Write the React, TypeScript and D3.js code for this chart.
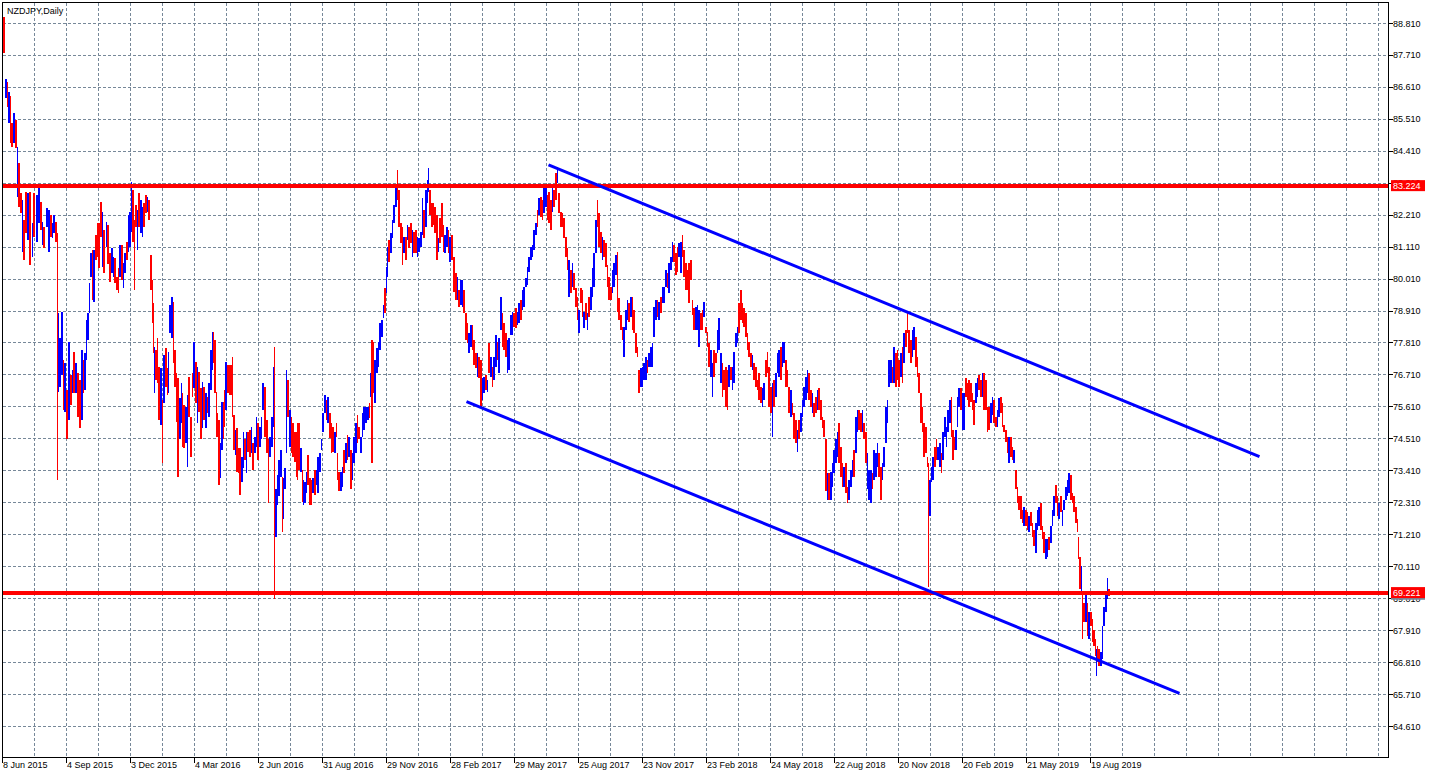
import React from 'react';
import * as d3 from 'd3';

const W = 1436;
const H = 779;

const title = 'NZDJPY,Daily';

const priceTicks = [88.81, 87.71, 86.61, 85.51, 84.41, 83.31, 82.21, 81.11, 80.01, 78.91, 77.81, 76.71, 75.61, 74.51, 73.41, 72.31, 71.21, 70.11, 69.01, 67.91, 66.81, 65.71, 64.61];

const dateLabels: [number, string][] = [
  [0, '8 Jun 2015'], [64, '4 Sep 2015'], [128, '3 Dec 2015'], [192, '4 Mar 2016'],
  [256, '2 Jun 2016'], [320, '31 Aug 2016'], [384, '29 Nov 2016'], [448, '28 Feb 2017'],
  [512, '29 May 2017'], [576, '25 Aug 2017'], [640, '23 Nov 2017'], [704, '23 Feb 2018'],
  [768, '24 May 2018'], [832, '22 Aug 2018'], [896, '20 Nov 2018'], [960, '20 Feb 2019'],
  [1024, '21 May 2019'], [1088, '19 Aug 2019'],
];

const levels = [83.224, 69.221];
const bidPrice = 69.18;

const channelUpper: [number, number][] = [[546, 83.94], [1257, 73.9]];
const channelLower: [number, number][] = [[464, 75.79], [1177, 65.75]];

// [trading day index, high, low, up(1)/down(0)]
const bars: [number, number, number, number][] = [
  [0, 89.03, 87.79, 0], [2, 86.89, 86.24, 1], [4, 86.79, 85.93, 0], [5, 86.45, 85.38, 1], [7, 86.31, 84.7, 0],
  [8, 85.38, 84.56, 0], [10, 85.73, 84.7, 1], [12, 85.49, 84.52, 0], [14, 84.56, 82.84, 1], [15, 84.01, 82.5, 0],
  [17, 82.98, 82.29, 0], [19, 82.74, 80.95, 1], [20, 82.05, 80.67, 0], [22, 83.01, 81.6, 0], [24, 82.98, 81.36, 1],
  [26, 83.01, 80.5, 0], [29, 81.94, 80.78, 1], [30, 82.98, 81.46, 0], [33, 82.91, 81.29, 1], [35, 83.18, 81.94, 1],
  [37, 82.67, 81.7, 0], [39, 81.98, 81.19, 1], [40, 81.8, 81.09, 0], [43, 82.46, 81.8, 1], [45, 82.39, 80.95, 1],
  [47, 82.22, 81.46, 0], [49, 81.94, 81.43, 1], [50, 82.22, 81.6, 1], [52, 81.98, 81.29, 0], [54, 81.6, 73.11, 0],
  [55, 78.85, 76.14, 1], [56, 77.99, 76.31, 1], [58, 78.88, 76.72, 1], [60, 77.24, 75.52, 0], [61, 77.13, 75.45, 1],
  [63, 76.2, 74.49, 0], [65, 77.85, 75.17, 1], [67, 76.72, 75.69, 0], [69, 76.89, 76.1, 1], [70, 77.51, 76.1, 0],
  [72, 77.13, 76.1, 1], [74, 76.79, 75.28, 0], [76, 76.55, 74.9, 0], [78, 77.58, 75.17, 1], [80, 77.24, 76.1, 0],
  [81, 77.48, 76.2, 1], [83, 78.61, 77.24, 1], [84, 78.85, 77.92, 1], [86, 79.88, 78.85, 1], [87, 80.91, 80.09, 1],
  [89, 81.02, 79.3, 0], [90, 81.02, 79.23, 1], [92, 81.53, 80.67, 0], [94, 81.94, 80.78, 0], [95, 81.94, 80.4, 0],
  [97, 82.67, 81.46, 0], [99, 82.32, 80.43, 1], [100, 81.7, 80.23, 0], [103, 81.98, 81.12, 1], [104, 81.88, 80.54, 0],
  [106, 80.91, 79.92, 0], [108, 81.09, 80.23, 1], [110, 80.78, 80.09, 1], [111, 80.74, 79.88, 0], [113, 80.09, 79.64, 0],
  [115, 80.4, 79.54, 0], [116, 81.19, 80.09, 1], [118, 81.19, 79.99, 0], [120, 80.57, 79.71, 1], [121, 80.91, 80.23, 1],
  [123, 81.29, 80.67, 0], [125, 82.22, 80.95, 1], [126, 82.32, 81.12, 1], [128, 83.35, 81.63, 1], [129, 83.08, 81.29, 0],
  [131, 82.05, 79.64, 0], [132, 82.56, 81.8, 0], [134, 82.39, 81.02, 1], [135, 82.98, 81.8, 0], [137, 82.74, 81.6, 1],
  [139, 82.5, 81.46, 1], [140, 82.63, 81.8, 0], [142, 82.91, 82.29, 0], [144, 82.84, 82.32, 1], [145, 82.74, 82.05, 0],
  [147, 80.84, 79.64, 0], [149, 79.99, 78.51, 0], [150, 79.19, 77.48, 0], [151, 77.68, 76.1, 1], [152, 77.58, 76.55, 0],
  [154, 77.99, 76.44, 0], [155, 76.99, 75.17, 0], [157, 76.96, 75.0, 1], [159, 75.86, 73.69, 0], [160, 77.41, 75.76, 1],
  [162, 77.65, 76.31, 0], [164, 76.96, 76.03, 0], [165, 77.51, 76.1, 1], [166, 79.12, 78.16, 1], [168, 79.4, 77.99, 1],
  [170, 79.23, 77.13, 0], [171, 77.58, 76.31, 0], [173, 76.79, 75.1, 0], [174, 76.62, 73.21, 0], [176, 75.93, 74.49, 1],
  [178, 76.44, 75.07, 1], [179, 76.1, 74.24, 0], [180, 75.69, 74.21, 0], [182, 75.62, 74.38, 1], [184, 76.03, 73.55, 1],
  [185, 76.65, 75.28, 0], [187, 75.28, 73.9, 0], [189, 76.79, 75.96, 0], [190, 77.85, 76.27, 1], [192, 77.17, 75.76, 0],
  [194, 76.99, 75.07, 1], [195, 76.82, 75.45, 0], [197, 76.27, 74.49, 0], [199, 76.48, 74.9, 1], [200, 76.31, 75.17, 0],
  [202, 76.1, 74.9, 1], [204, 75.96, 75.41, 0], [205, 76.44, 75.28, 1], [207, 77.58, 76.2, 1], [209, 78.2, 76.89, 1],
  [210, 78.2, 77.13, 0], [211, 77.92, 76.1, 0], [213, 76.13, 74.59, 0], [214, 75.41, 74.59, 0], [215, 75.17, 72.94, 0],
  [217, 74.38, 73.18, 1], [218, 75.79, 74.14, 1], [220, 75.79, 74.49, 0], [221, 76.2, 74.93, 0], [222, 77.17, 75.52, 1],
  [224, 77.06, 76.1, 0], [226, 77.06, 76.03, 0], [228, 77.06, 76.03, 0], [229, 77.34, 75.28, 0], [230, 75.34, 74.14, 0],
  [232, 74.83, 73.97, 1], [233, 74.9, 73.38, 0], [235, 74.21, 73.35, 0], [236, 74.21, 72.59, 0], [238, 73.87, 73.01, 1],
  [240, 74.73, 73.52, 1], [241, 74.49, 73.8, 0], [243, 74.73, 73.35, 1], [244, 74.73, 74.07, 0], [246, 74.83, 73.9, 0],
  [248, 74.93, 74.04, 1], [249, 74.38, 73.45, 0], [251, 74.59, 74.04, 1], [253, 75.28, 74.24, 1], [254, 75.07, 73.8, 0],
  [256, 74.93, 74.24, 1], [258, 75.28, 74.49, 1], [259, 76.44, 75.52, 1], [261, 76.31, 74.59, 0], [263, 75.17, 74.04, 0],
  [265, 74.49, 72.32, 0], [266, 74.59, 73.87, 1], [268, 75.28, 74.24, 1], [270, 76.99, 74.93, 1], [271, 77.68, 68.99, 0],
  [272, 72.77, 71.15, 1], [274, 73.28, 72.25, 1], [275, 73.8, 72.53, 1], [277, 74.14, 73.21, 1], [279, 73.21, 71.29, 0],
  [280, 73.18, 71.74, 1], [281, 73.52, 72.77, 1], [283, 76.89, 74.04, 1], [284, 76.55, 75.28, 0], [286, 75.52, 74.24, 1],
  [288, 75.28, 74.04, 0], [289, 75.07, 73.9, 0], [291, 74.73, 73.73, 0], [293, 74.73, 73.21, 0], [294, 75.07, 73.11, 0],
  [295, 75.07, 73.45, 0], [297, 74.21, 73.38, 1], [299, 73.45, 72.35, 0], [300, 73.11, 72.25, 1], [301, 73.01, 72.32, 1],
  [303, 73.38, 72.66, 1], [304, 73.97, 72.94, 0], [306, 73.18, 72.25, 0], [308, 73.11, 72.25, 0], [309, 73.18, 72.66, 1],
  [311, 73.45, 72.59, 0], [313, 73.45, 72.94, 1], [314, 73.87, 72.66, 1], [316, 74.04, 73.38, 1], [318, 74.49, 74.14, 1],
  [319, 75.41, 74.73, 1], [321, 76.03, 75.41, 1], [323, 75.86, 75.17, 0], [324, 75.96, 75.07, 1], [326, 75.41, 74.55, 0],
  [328, 75.07, 74.04, 0], [329, 74.93, 74.07, 0], [331, 74.73, 74.04, 1], [333, 75.07, 74.59, 0], [334, 74.04, 73.11, 0],
  [335, 73.38, 72.7, 0], [337, 73.38, 72.7, 1], [339, 73.55, 72.87, 1], [340, 74.14, 73.35, 0], [342, 74.38, 73.69, 1],
  [344, 74.66, 73.8, 0], [345, 74.59, 73.9, 1], [347, 74.14, 72.77, 0], [349, 74.04, 73.11, 1], [350, 74.59, 73.69, 1],
  [352, 75.07, 74.04, 1], [354, 75.34, 74.38, 0], [355, 74.93, 74.49, 0], [357, 74.59, 74.04, 1], [359, 75.41, 74.59, 1],
  [360, 75.59, 74.83, 1], [362, 75.62, 75.07, 1], [364, 75.62, 75.17, 1], [366, 75.76, 75.24, 0], [367, 76.79, 75.96, 1],
  [368, 77.92, 73.69, 0], [370, 77.85, 76.1, 0], [371, 77.24, 75.76, 1], [373, 77.65, 76.79, 1], [375, 77.85, 76.99, 1],
  [376, 78.51, 77.58, 1], [378, 78.61, 78.03, 1], [380, 79.12, 78.68, 1], [381, 79.71, 78.85, 0], [383, 80.43, 79.54, 1],
  [384, 81.12, 80.09, 1], [385, 81.36, 80.6, 0], [387, 81.6, 80.91, 1], [389, 82.05, 81.43, 1], [390, 82.56, 81.94, 1],
  [392, 83.18, 82.5, 1], [394, 83.77, 82.74, 0], [395, 83.08, 81.8, 0], [397, 81.94, 81.26, 0], [399, 81.8, 80.5, 0],
  [400, 81.46, 80.91, 1], [402, 81.46, 80.67, 0], [404, 81.88, 81.36, 1], [405, 81.8, 81.09, 0], [407, 81.94, 81.26, 0],
  [409, 81.7, 80.78, 1], [410, 81.63, 80.91, 0], [412, 81.7, 80.91, 0], [414, 81.46, 80.78, 1], [415, 81.43, 80.95, 1],
  [417, 81.63, 81.12, 1], [419, 82.81, 81.53, 1], [420, 82.39, 81.43, 0], [422, 83.08, 81.8, 1], [424, 83.42, 82.63, 1],
  [425, 83.84, 83.01, 1], [426, 83.08, 82.22, 0], [428, 82.63, 81.8, 0], [430, 82.63, 81.88, 0], [431, 82.5, 81.6, 0],
  [433, 82.22, 80.67, 0], [435, 81.43, 80.95, 1], [436, 82.12, 81.26, 0], [438, 82.63, 81.46, 0], [440, 81.88, 80.95, 0],
  [441, 81.53, 80.91, 1], [443, 81.8, 81.12, 1], [445, 81.7, 80.91, 0], [446, 81.46, 80.6, 1], [448, 81.53, 80.67, 0],
  [450, 80.78, 79.57, 0], [452, 80.23, 79.3, 0], [454, 80.09, 79.3, 1], [455, 79.64, 79.06, 0], [457, 79.99, 79.12, 1],
  [459, 79.99, 79.06, 1], [460, 79.64, 78.85, 0], [462, 78.85, 77.92, 0], [464, 78.51, 77.82, 0], [465, 78.16, 77.48, 1],
  [467, 78.44, 77.68, 1], [469, 78.44, 77.58, 0], [470, 77.92, 77.06, 0], [472, 77.48, 76.96, 0], [474, 77.48, 76.65, 1],
  [475, 77.34, 76.62, 0], [477, 77.24, 75.62, 0], [479, 76.62, 75.86, 1], [480, 76.65, 76.1, 1], [482, 76.72, 76.2, 0],
  [484, 76.55, 76.14, 1], [485, 77.82, 76.79, 0], [487, 77.34, 76.65, 1], [489, 76.99, 76.31, 0], [490, 77.34, 76.55, 1],
  [492, 78.09, 76.99, 1], [494, 77.85, 77.24, 0], [495, 77.99, 76.79, 1], [497, 79.4, 78.27, 1], [499, 78.85, 77.68, 0],
  [500, 78.51, 77.58, 0], [502, 78.16, 77.34, 0], [504, 77.92, 76.79, 1], [505, 77.99, 76.89, 1], [507, 78.78, 78.09, 1],
  [509, 78.88, 78.09, 1], [510, 78.85, 78.37, 0], [512, 79.02, 78.33, 0], [514, 78.88, 78.44, 1], [515, 79.19, 78.51, 1],
  [517, 79.3, 78.61, 0], [519, 79.64, 78.95, 1], [520, 79.74, 79.06, 1], [522, 80.05, 79.74, 1], [524, 80.43, 79.81, 1],
  [525, 80.78, 80.26, 1], [527, 81.12, 80.67, 1], [529, 81.19, 80.78, 1], [530, 81.7, 81.02, 1], [532, 81.94, 81.53, 1],
  [534, 82.39, 81.8, 0], [535, 82.81, 82.22, 1], [537, 82.84, 82.15, 0], [539, 82.74, 82.05, 0], [540, 83.18, 82.29, 1],
  [542, 83.15, 82.5, 1], [544, 82.91, 82.05, 0], [545, 83.01, 81.94, 0], [547, 82.74, 81.7, 0], [549, 83.15, 82.32, 1],
  [550, 83.08, 82.5, 0], [552, 83.66, 82.74, 0], [554, 83.87, 83.32, 1], [555, 82.98, 82.29, 0], [557, 82.32, 81.8, 0],
  [559, 82.29, 81.8, 0], [560, 82.12, 81.43, 0], [562, 81.46, 80.78, 0], [564, 81.09, 80.33, 0], [565, 80.67, 79.4, 1],
  [567, 80.33, 79.54, 0], [569, 80.57, 79.74, 1], [570, 80.23, 79.64, 0], [572, 79.71, 79.06, 0], [574, 79.4, 78.61, 0],
  [575, 78.95, 78.16, 1], [577, 79.71, 79.19, 0], [579, 79.64, 78.71, 0], [580, 78.88, 78.33, 1], [582, 79.19, 78.61, 0],
  [584, 78.85, 78.27, 1], [585, 79.4, 78.71, 0], [587, 79.74, 78.95, 1], [589, 80.4, 79.4, 1], [590, 80.91, 79.74, 1],
  [592, 82.05, 80.91, 1], [594, 82.74, 81.8, 0], [595, 82.29, 81.12, 0], [597, 81.63, 80.91, 0], [599, 81.46, 80.67, 1],
  [600, 81.36, 80.78, 0], [602, 81.26, 80.43, 0], [604, 80.5, 79.74, 0], [605, 80.09, 79.3, 0], [607, 79.74, 79.3, 0],
  [609, 80.33, 79.54, 1], [610, 80.57, 79.74, 1], [612, 80.84, 80.16, 1], [614, 80.95, 78.88, 0], [615, 79.37, 78.61, 0],
  [617, 78.78, 78.27, 0], [619, 78.37, 77.92, 0], [620, 78.37, 77.34, 1], [622, 78.95, 78.27, 1], [624, 79.3, 78.61, 1],
  [625, 79.19, 78.54, 0], [627, 79.4, 78.71, 1], [629, 79.4, 78.27, 0], [630, 78.95, 78.16, 0], [632, 78.16, 77.48, 0],
  [634, 77.68, 77.34, 0], [635, 76.89, 76.1, 0], [637, 76.96, 76.31, 1], [639, 76.99, 76.31, 1], [640, 77.13, 76.55, 1],
  [642, 77.34, 76.55, 1], [644, 77.24, 76.79, 0], [645, 77.48, 76.99, 1], [647, 77.68, 76.99, 1], [649, 77.82, 76.99, 1],
  [650, 79.06, 78.03, 1], [652, 79.3, 78.61, 1], [654, 79.3, 78.71, 0], [655, 79.23, 78.61, 1], [657, 79.4, 78.85, 0],
  [659, 79.74, 79.19, 1], [660, 79.74, 79.19, 1], [662, 80.33, 79.74, 1], [664, 80.23, 79.71, 0], [665, 80.57, 79.54, 1],
  [667, 80.78, 80.33, 1], [669, 81.29, 80.6, 1], [670, 81.19, 80.6, 0], [672, 80.91, 80.16, 0], [674, 81.12, 80.26, 0],
  [675, 81.26, 80.78, 1], [677, 81.29, 80.23, 1], [679, 81.53, 80.78, 0], [680, 81.02, 80.09, 0], [682, 80.57, 79.64, 0],
  [684, 80.33, 79.64, 0], [685, 80.57, 79.19, 0], [687, 80.67, 79.99, 0], [689, 79.3, 78.78, 0], [690, 79.02, 78.27, 0],
  [692, 79.06, 78.27, 1], [694, 79.12, 78.27, 1], [695, 78.95, 77.68, 1], [697, 78.85, 78.27, 0], [699, 78.95, 78.27, 0],
  [700, 79.23, 78.71, 1], [702, 78.37, 78.16, 0], [704, 78.2, 77.68, 0], [705, 77.82, 77.0, 0], [707, 77.58, 76.65, 1],
  [709, 77.13, 75.96, 1], [710, 77.58, 76.65, 0], [712, 77.48, 77.13, 0], [714, 78.27, 77.48, 1], [715, 78.68, 77.58, 1],
  [717, 77.48, 76.44, 1], [719, 77.13, 75.96, 0], [720, 76.89, 76.2, 0], [722, 76.99, 75.62, 0], [724, 76.89, 75.52, 0],
  [725, 77.06, 76.31, 1], [727, 76.99, 76.55, 0], [729, 76.99, 76.2, 1], [730, 77.51, 76.44, 1], [732, 78.16, 77.68, 1],
  [734, 78.37, 77.82, 1], [735, 79.19, 78.16, 0], [737, 79.64, 78.61, 0], [739, 79.19, 78.51, 0], [740, 79.02, 78.37, 0],
  [742, 78.85, 78.03, 0], [744, 78.16, 77.58, 0], [745, 77.85, 77.34, 0], [747, 77.48, 77.0, 0], [749, 77.41, 76.89, 1],
  [750, 77.13, 76.55, 0], [752, 76.99, 76.31, 0], [754, 76.55, 76.2, 0], [755, 76.79, 75.86, 0], [757, 76.31, 75.76, 0],
  [759, 76.27, 75.62, 1], [760, 76.44, 75.86, 1], [762, 77.24, 76.65, 0], [764, 77.51, 76.79, 0], [765, 76.99, 75.62, 0],
  [767, 76.31, 75.41, 0], [769, 76.44, 74.59, 1], [770, 76.55, 75.62, 0], [772, 76.79, 75.96, 1], [774, 77.48, 76.79, 1],
  [775, 77.58, 76.65, 1], [777, 77.68, 76.55, 0], [779, 77.85, 76.99, 1], [780, 77.85, 77.13, 1], [782, 77.24, 76.31, 0],
  [784, 76.89, 76.31, 0], [785, 76.31, 75.41, 0], [787, 76.2, 75.28, 1], [789, 75.76, 75.34, 0], [790, 75.41, 74.49, 0],
  [792, 75.17, 74.38, 0], [794, 74.83, 74.07, 1], [795, 75.17, 74.49, 0], [797, 75.41, 74.73, 1], [799, 75.86, 75.28, 1],
  [800, 76.31, 75.62, 1], [802, 76.65, 75.86, 1], [804, 76.89, 76.1, 1], [805, 76.79, 75.86, 0], [807, 76.2, 75.62, 0],
  [809, 76.1, 75.41, 1], [810, 75.76, 75.28, 0], [812, 75.96, 75.41, 0], [814, 76.2, 75.52, 1], [815, 76.27, 75.52, 0],
  [817, 75.86, 75.17, 0], [819, 75.28, 74.9, 0], [820, 75.17, 74.59, 0], [822, 74.49, 72.7, 0], [824, 73.35, 72.42, 1],
  [825, 73.35, 72.42, 0], [827, 73.38, 72.42, 1], [829, 73.69, 72.87, 1], [830, 74.14, 73.35, 1], [832, 74.49, 73.69, 1],
  [834, 74.73, 73.9, 1], [835, 75.07, 73.69, 0], [837, 74.24, 73.21, 0], [839, 73.69, 72.87, 0], [840, 73.55, 72.87, 1],
  [842, 73.69, 72.66, 0], [844, 72.87, 72.32, 0], [845, 73.11, 72.42, 1], [847, 73.45, 72.87, 1], [849, 73.8, 73.21, 1],
  [850, 74.14, 73.21, 0], [852, 75.28, 74.04, 1], [854, 75.52, 74.73, 1], [855, 75.52, 74.83, 0], [857, 75.41, 74.73, 0],
  [859, 75.52, 74.73, 1], [860, 75.07, 74.49, 0], [862, 74.73, 73.69, 0], [864, 74.04, 72.77, 1], [865, 73.45, 72.42, 1],
  [867, 73.45, 72.32, 1], [869, 73.35, 72.77, 0], [870, 74.14, 73.11, 1], [872, 74.04, 73.21, 1], [874, 74.38, 73.55, 1],
  [875, 74.04, 73.21, 0], [877, 73.55, 72.42, 0], [879, 73.69, 73.11, 1], [880, 74.24, 73.55, 1], [882, 75.62, 74.38, 1],
  [884, 75.86, 75.07, 1], [885, 77.24, 76.31, 1], [887, 77.24, 76.44, 1], [889, 76.99, 76.44, 0], [890, 77.68, 76.44, 1],
  [892, 77.48, 76.31, 0], [894, 77.58, 76.55, 0], [895, 77.24, 76.31, 0], [897, 77.48, 76.65, 1], [899, 77.68, 76.44, 0],
  [900, 78.16, 77.13, 1], [902, 78.27, 77.68, 0], [904, 78.85, 78.16, 0], [905, 78.27, 77.48, 0], [907, 77.92, 77.13, 0],
  [909, 78.27, 77.34, 1], [910, 78.37, 77.58, 1], [912, 78.03, 77.0, 0], [914, 77.34, 76.65, 0], [915, 76.79, 76.1, 0],
  [917, 76.1, 75.07, 0], [919, 75.62, 74.73, 0], [920, 75.07, 73.9, 0], [922, 74.93, 74.04, 0], [924, 73.9, 73.55, 0],
  [925, 73.69, 69.43, 0], [926, 73.11, 71.84, 1], [928, 73.55, 73.01, 1], [929, 73.9, 73.11, 1], [931, 74.24, 73.55, 0],
  [933, 74.49, 73.8, 0], [934, 74.24, 73.8, 1], [936, 74.38, 73.55, 1], [938, 74.04, 73.35, 0], [939, 74.73, 73.8, 1],
  [941, 75.28, 74.59, 1], [943, 74.93, 74.24, 1], [944, 75.52, 74.73, 1], [946, 75.86, 75.07, 1], [948, 75.96, 74.59, 0],
  [949, 74.83, 73.8, 0], [951, 74.59, 74.14, 0], [952, 74.83, 74.14, 1], [954, 75.96, 74.93, 1], [955, 76.27, 75.62, 1],
  [957, 76.27, 75.52, 0], [959, 76.1, 74.83, 1], [960, 76.1, 74.83, 1], [962, 76.62, 75.96, 0], [964, 76.44, 75.86, 0],
  [965, 76.55, 75.62, 0], [967, 76.44, 75.79, 0], [969, 76.1, 75.52, 0], [970, 75.86, 75.0, 0], [972, 76.44, 75.76, 1],
  [974, 76.62, 75.96, 1], [975, 76.72, 76.2, 0], [977, 76.55, 75.96, 0], [979, 76.79, 75.96, 1], [980, 76.79, 75.52, 0],
  [982, 76.55, 75.52, 0], [984, 75.62, 74.73, 0], [985, 75.62, 74.83, 0], [987, 75.76, 75.07, 1], [989, 75.96, 75.34, 1],
  [990, 75.86, 75.07, 0], [992, 75.28, 74.93, 0], [994, 75.52, 74.93, 1], [995, 75.93, 75.28, 1], [997, 75.96, 75.41, 0],
  [999, 75.76, 74.93, 0], [1000, 75.0, 74.73, 0], [1002, 74.83, 74.42, 0], [1004, 74.59, 74.04, 0], [1005, 74.59, 73.69, 1],
  [1007, 74.59, 73.9, 0], [1009, 74.24, 73.8, 0], [1010, 74.14, 73.69, 1], [1012, 73.45, 72.77, 0], [1014, 72.87, 72.32, 0],
  [1015, 72.53, 72.08, 0], [1017, 72.53, 71.74, 0], [1019, 72.08, 71.63, 0], [1020, 72.18, 71.5, 1], [1022, 72.08, 71.5, 0],
  [1024, 71.98, 71.39, 0], [1025, 71.84, 71.29, 1], [1027, 71.98, 71.5, 0], [1029, 71.63, 71.15, 0], [1030, 71.39, 70.81, 0],
  [1032, 71.63, 70.6, 1], [1034, 72.08, 71.39, 1], [1035, 72.18, 71.5, 1], [1037, 72.32, 71.39, 0], [1039, 71.5, 71.05, 0],
  [1040, 71.29, 70.6, 0], [1042, 71.05, 70.36, 1], [1044, 71.05, 70.46, 1], [1045, 71.15, 70.7, 0], [1047, 71.5, 70.94, 1],
  [1049, 72.08, 71.5, 1], [1050, 72.53, 71.84, 1], [1052, 72.94, 72.32, 0], [1054, 72.53, 71.84, 0], [1055, 72.32, 71.74, 1],
  [1057, 72.53, 71.98, 0], [1059, 72.08, 71.5, 1], [1060, 72.42, 72.08, 1], [1062, 72.87, 72.42, 1], [1064, 73.11, 72.53, 1],
  [1065, 73.35, 72.66, 1], [1067, 73.28, 72.42, 0], [1069, 72.66, 72.32, 0], [1070, 72.53, 71.98, 0], [1072, 72.18, 71.63, 0],
  [1074, 71.74, 71.29, 0], [1075, 71.15, 70.36, 0], [1076, 70.46, 69.33, 0], [1078, 70.12, 69.23, 1], [1079, 69.23, 67.61, 0],
  [1080, 68.88, 68.2, 0], [1082, 69.23, 68.2, 1], [1084, 68.88, 67.72, 0], [1085, 68.54, 67.61, 1], [1087, 68.54, 68.06, 0],
  [1089, 68.3, 67.51, 0], [1090, 67.95, 67.37, 0], [1092, 67.61, 67.03, 0], [1093, 67.27, 66.34, 1], [1094, 67.37, 66.82, 0],
  [1095, 67.27, 66.68, 0], [1097, 67.16, 66.68, 1], [1099, 68.06, 66.92, 1], [1100, 68.74, 68.06, 1], [1102, 69.23, 68.54, 1],
  [1104, 69.71, 68.99, 1], [1105, 69.33, 69.09, 0],
];

const FONT = '"Liberation Sans", Arial, sans-serif';
const GRID = '#778899';

export default function App() {
  const L = 2.5, R = 1388.5, T = 2.5, B = 757.5;
  const x = d3.scaleLinear().domain([0, 1386]).range([L, R]);
  const y = d3.scaleLinear().domain([64.61, 88.81]).range([726.6, 23.3]);
  const fmt = d3.format('.3f');
  const snap = (v: number) => Math.floor(v) + 0.5;

  const vGrid = d3.range(32, 1386, 32);
  const line = d3.line<[number, number]>().x(d => x(d[0])).y(d => y(d[1]));

  return (
    <svg width={W} height={H} style={{ position: 'absolute', left: 0, top: 0, background: '#fff' }}
      fontFamily={FONT}>
      <defs>
        <clipPath id="plot"><rect x={L} y={T} width={R - L} height={B - T} /></clipPath>
      </defs>
      <rect x={0} y={0} width={W} height={H} fill="#fff" />
      <g stroke={GRID} strokeWidth={1} strokeDasharray="3,2" shapeRendering="crispEdges">
        {vGrid.map(d => (
          <line key={'v' + d} x1={snap(x(d))} x2={snap(x(d))} y1={T} y2={B} />
        ))}
        {priceTicks.map(p => (
          <line key={'h' + p} x1={L} x2={R} y1={snap(y(p))} y2={snap(y(p))} />
        ))}
      </g>
      <g clipPath="url(#plot)" shapeRendering="crispEdges">
        {bars.map((b, i) => {
          const next = i < bars.length - 1 ? bars[i + 1][0] : b[0] + 2;
          const w = Math.max(1, Math.min(2, next - b[0]));
          const y1 = y(b[1]);
          const y2 = y(b[2]);
          return (
            <rect key={i} x={Math.floor(x(b[0])) + 1} y={y1} width={w} height={Math.max(1, y2 - y1)}
              fill={b[3] ? '#0000FF' : '#FF0000'} />
          );
        })}
        <line x1={L} x2={R} y1={y(bidPrice)} y2={y(bidPrice)} stroke={GRID} strokeWidth={1} />
        {levels.map(p => (
          <line key={'lv' + p} x1={L} x2={R} y1={y(p)} y2={y(p)} stroke="#FF0000" strokeWidth={4} />
        ))}
        <path d={line(channelUpper) || ''} stroke="#0000FF" strokeWidth={3} fill="none" shapeRendering="auto" />
        <path d={line(channelLower) || ''} stroke="#0000FF" strokeWidth={3} fill="none" shapeRendering="auto" />
      </g>
      <rect x={L} y={T} width={R - L} height={B - T} fill="none" stroke="#000" strokeWidth={1} shapeRendering="crispEdges" />
      <text x={7} y={14} fontSize={9} fill="#000">{title}</text>
      <g fontSize={9} fill="#000">
        {priceTicks.map(p => (
          <g key={'t' + p}>
            <line x1={R} x2={R + 4} y1={snap(y(p))} y2={snap(y(p))} stroke="#000" shapeRendering="crispEdges" />
            <text x={1393} y={y(p) + 3.2}>{fmt(p)}</text>
          </g>
        ))}
        {dateLabels.map(([d, s]) => (
          <g key={'d' + d}>
            <line x1={snap(x(d))} x2={snap(x(d))} y1={B} y2={B + 5} stroke="#000" shapeRendering="crispEdges" />
            <text x={x(d) + 0.5} y={767.5}>{s}</text>
          </g>
        ))}
      </g>
      <rect x={1391} y={y(bidPrice) - 5} width={34} height={11} fill={GRID} />
      {levels.map(p => (
        <g key={'lb' + p}>
          <rect x={1391} y={y(p) - 5.5} width={34} height={11} fill="#FF0000" />
          <text x={1393} y={y(p) + 3.2} fontSize={9} fill="#fff">{fmt(p)}</text>
        </g>
      ))}
    </svg>
  );
}
